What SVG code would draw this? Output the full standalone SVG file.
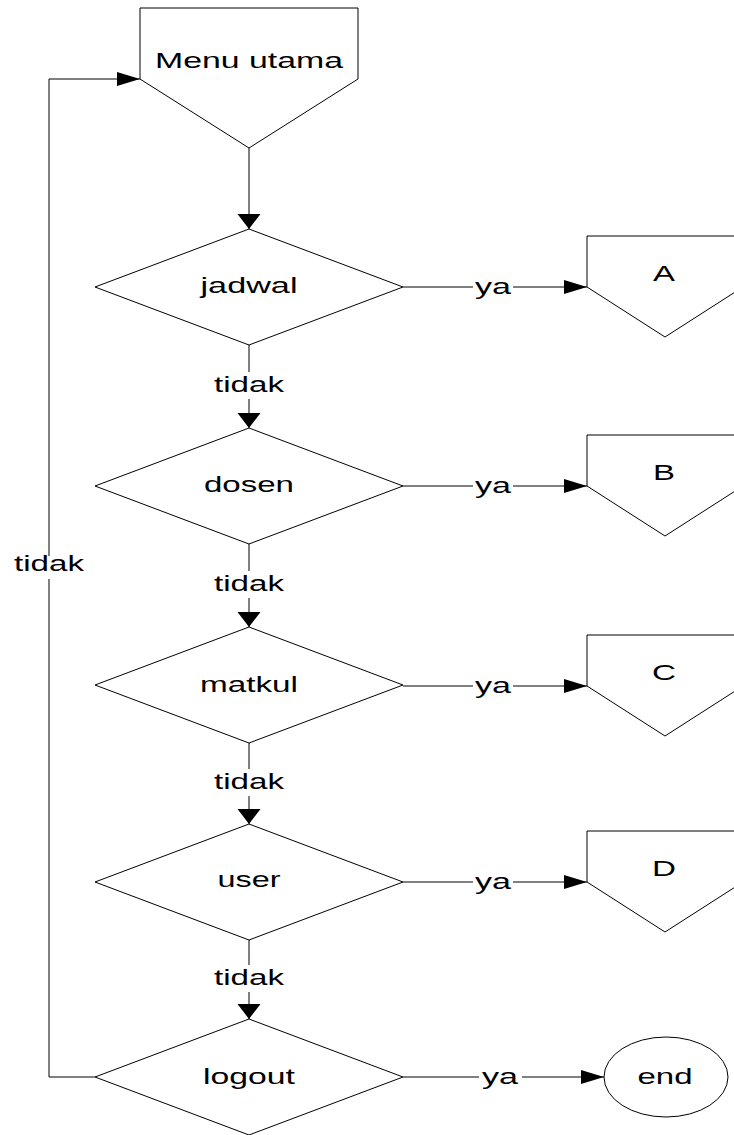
<svg xmlns="http://www.w3.org/2000/svg" width="734" height="1135" viewBox="0 0 734 1135">
<style>
.s{fill:#fff;stroke:#000;stroke-width:1}
.c{fill:none;stroke:#000;stroke-width:1}
text{font-family:"Liberation Sans",Arial,sans-serif;font-size:22px;fill:#000;text-anchor:middle}
</style>
<defs>
<marker id="ah" markerUnits="userSpaceOnUse" markerWidth="23" markerHeight="14" refX="23" refY="7" orient="auto" overflow="visible"><path d="M0,0 L23,7 L0,14 z" fill="#000"/></marker>
<marker id="av" markerUnits="userSpaceOnUse" markerWidth="15" markerHeight="23" refX="15" refY="11.5" orient="auto" overflow="visible"><path d="M0,0 L15,11.5 L0,23 z" fill="#000"/></marker>
</defs>
<rect width="734" height="1135" fill="#fff"/>
<g id="connectors">
<path class="c" d="M249,148 V229" marker-end="url(#av)"/>
<path class="c" d="M249,345 V372 M249,399 V428" marker-end="url(#av)"/>
<path class="c" d="M249,544 V571 M249,598 V627" marker-end="url(#av)"/>
<path class="c" d="M249,743 V769 M249,796 V824" marker-end="url(#av)"/>
<path class="c" d="M249,940 V965 M249,992 V1019" marker-end="url(#av)"/>
<path class="c" d="M95,1077 H49 V579 M49,556 V79 H140" marker-end="url(#ah)"/>
<path class="c" d="M403,287 H473 M513,287 H587" marker-end="url(#ah)"/>
<path class="c" d="M403,486 H473 M513,486 H587" marker-end="url(#ah)"/>
<path class="c" d="M403,686 H473 M513,686 H587" marker-end="url(#ah)"/>
<path class="c" d="M403,882 H473 M513,882 H587" marker-end="url(#ah)"/>
<path class="c" d="M403,1077 H479 M522,1077 H604" marker-end="url(#ah)"/>
<text x="249" y="392" textLength="70" lengthAdjust="spacingAndGlyphs">tidak</text>
<text x="249" y="591" textLength="70" lengthAdjust="spacingAndGlyphs">tidak</text>
<text x="249" y="789" textLength="70" lengthAdjust="spacingAndGlyphs">tidak</text>
<text x="249" y="985" textLength="70" lengthAdjust="spacingAndGlyphs">tidak</text>
<text x="49" y="571" textLength="70" lengthAdjust="spacingAndGlyphs">tidak</text>
<text x="493" y="294" textLength="36" lengthAdjust="spacingAndGlyphs">ya</text>
<text x="493" y="493" textLength="36" lengthAdjust="spacingAndGlyphs">ya</text>
<text x="493" y="693" textLength="36" lengthAdjust="spacingAndGlyphs">ya</text>
<text x="493" y="889" textLength="36" lengthAdjust="spacingAndGlyphs">ya</text>
<text x="500" y="1084" textLength="36" lengthAdjust="spacingAndGlyphs">ya</text>
</g>
<g id="menu-utama">
<polygon class="s" points="140,8 358,8 358,79 249,148 140,79"/>
<text x="249" y="68" textLength="188" lengthAdjust="spacingAndGlyphs">Menu utama</text>
</g>
<g id="jadwal">
<polygon class="s" points="249,229 403,287 249,345 95,287"/>
<text x="249" y="293" textLength="97" lengthAdjust="spacingAndGlyphs">jadwal</text>
</g>
<g id="dosen">
<polygon class="s" points="249,428 403,486 249,544 95,486"/>
<text x="249" y="492" textLength="90" lengthAdjust="spacingAndGlyphs">dosen</text>
</g>
<g id="matkul">
<polygon class="s" points="249,627 403,685 249,743 95,685"/>
<text x="249" y="692" textLength="98" lengthAdjust="spacingAndGlyphs">matkul</text>
</g>
<g id="user">
<polygon class="s" points="249,824 403,882 249,940 95,882"/>
<text x="249" y="887" textLength="63" lengthAdjust="spacingAndGlyphs">user</text>
</g>
<g id="logout">
<polygon class="s" points="249,1019 403,1077 249,1135 95,1077"/>
<text x="249" y="1084" textLength="92" lengthAdjust="spacingAndGlyphs">logout</text>
</g>
<g id="A">
<polygon class="s" points="587,236 743,236 743,287 665,337 587,287"/>
<text x="664" y="281" textLength="22" lengthAdjust="spacingAndGlyphs">A</text>
</g>
<g id="B">
<polygon class="s" points="587,435 743,435 743,486 665,536 587,486"/>
<text x="664" y="480" textLength="22" lengthAdjust="spacingAndGlyphs">B</text>
</g>
<g id="C">
<polygon class="s" points="587,635 743,635 743,686 665,736 587,686"/>
<text x="664" y="680" textLength="24" lengthAdjust="spacingAndGlyphs">C</text>
</g>
<g id="D">
<polygon class="s" points="587,831 743,831 743,882 665,932 587,882"/>
<text x="664" y="876" textLength="24" lengthAdjust="spacingAndGlyphs">D</text>
</g>
<g id="end">
<ellipse class="s" cx="666" cy="1077" rx="62" ry="40"/>
<text x="665" y="1084" textLength="55" lengthAdjust="spacingAndGlyphs">end</text>
</g>
</svg>
